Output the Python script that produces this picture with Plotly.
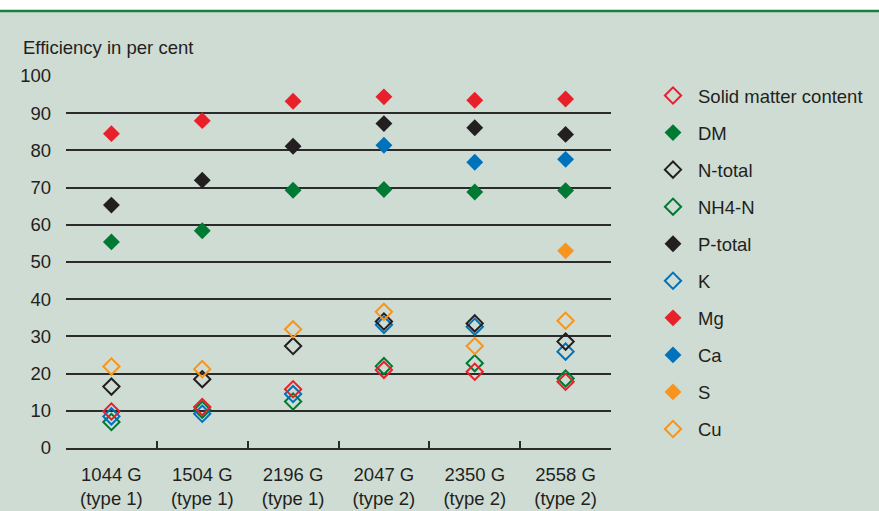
import plotly.graph_objects as go

categories = ["1044 G<br>(type 1)", "1504 G<br>(type 1)", "2196 G<br>(type 1)",
              "2047 G<br>(type 2)", "2350 G<br>(type 2)", "2558 G<br>(type 2)"]

solid_matter = [9.8, 11.0, 15.8, 21.0, 20.5, 17.8]
dm = [55.4, 58.4, 69.3, 69.5, 68.8, 69.2]
n_total = [16.5, 18.5, 27.4, 34.0, 33.5, 28.6]
nh4_n = [7.0, 10.3, 12.5, 22.0, 22.8, 18.7]
p_total = [65.3, 72.0, 81.1, 87.2, 86.1, 84.3]
k = [8.5, 9.2, 14.5, 33.1, 32.6, 25.9]
mg = [84.5, 88.0, 93.2, 94.4, 93.5, 93.8]
ca = [None, None, None, 81.4, 76.8, 77.6]
s = [None, None, None, None, None, 53.0]
cu = [21.9, 21.2, 31.9, 36.6, 27.4, 34.2]

RED = "#e8202a"
GREEN = "#007a33"
BLACK = "#231f20"
BLUE = "#0072bc"
ORANGE = "#f7941d"

# (name, values, color, open?, legend rank) in drawing order
series = [
    ("NH4-N", nh4_n, GREEN, True, 4),
    ("K", k, BLUE, True, 6),
    ("Solid matter content", solid_matter, RED, True, 1),
    ("N-total", n_total, BLACK, True, 3),
    ("Cu", cu, ORANGE, True, 10),
    ("DM", dm, GREEN, False, 2),
    ("P-total", p_total, BLACK, False, 5),
    ("Mg", mg, RED, False, 7),
    ("Ca", ca, BLUE, False, 8),
    ("S", s, ORANGE, False, 9),
]

fig = go.Figure()
for name, vals, color, is_open, rank in series:
    if is_open:
        marker = dict(symbol="diamond-open", size=12.5, color=color,
                      line=dict(color=color, width=2))
    else:
        marker = dict(symbol="diamond", size=13, color=color, line=dict(width=0))
    fig.add_trace(go.Scatter(
        x=categories, y=vals, mode="markers", name=name, marker=marker,
        legendrank=rank, legendgroup=name, cliponaxis=False,
    ))

BG = "#cfdcd3"
LINE = "#2b2b2b"
FONT = "Liberation Sans, Arial, sans-serif"

fig.update_layout(
    width=879, height=511,
    margin=dict(l=66, r=268, t=76, b=63),
    paper_bgcolor=BG, plot_bgcolor=BG,
    font=dict(family=FONT, size=18.5, color=BLACK),
    showlegend=True,
    legend=dict(
        xref="container", yref="container",
        x=648 / 879, y=1 - 77 / 511, xanchor="left", yanchor="top",
        bgcolor="rgba(0,0,0,0)", font=dict(size=18.5, color=BLACK),
        tracegroupgap=10, itemsizing="trace", itemwidth=40,
        maxheight=500,
    ),
    xaxis=dict(
        type="category", range=[-0.5, 5.5], showgrid=False, showline=True,
        linecolor=LINE, linewidth=1.5, ticks="inside", ticklen=7, tickwidth=1.5,
        tickcolor=LINE, tickson="boundaries", zeroline=False, automargin=False,
        tickfont=dict(size=18.5, color=BLACK), ticklabelstandoff=9,
    ),
    yaxis=dict(
        range=[0, 100], tickvals=[0, 10, 20, 30, 40, 50, 60, 70, 80, 90, 100],
        showgrid=True, gridcolor=LINE, gridwidth=1.5, zeroline=False,
        showline=False, ticks="", ticklabelstandoff=14, automargin=False,
        tickfont=dict(size=18.5, color=BLACK),
    ),
    annotations=[dict(
        text="Efficiency in per cent", xref="paper", yref="paper",
        x=(21 - 66) / 545, y=1 + (76 - 47) / 372, xanchor="left",
        yanchor="middle", showarrow=False,
        font=dict(size=18.5, color=BLACK, family=FONT),
    )],
    shapes=[
        dict(type="rect", xref="paper", yref="paper",
             x0=-66 / 545 - 0.01, x1=1 + 268 / 545 + 0.01,
             y0=1 + (76 - 10) / 372, y1=1 + 77 / 372 + 0.01,
             fillcolor="white", line=dict(width=0), layer="above"),
        dict(type="line", xref="paper", yref="paper",
             x0=-66 / 545, x1=1 + 268 / 545,
             y0=1 + (76 - 11) / 372, y1=1 + (76 - 11) / 372,
             line=dict(color="#1a7f3c", width=2.5), layer="above"),
    ],
)

fig.write_html("out.html", config={"displayModeBar": False},
               post_script="document.body.style.margin='0px';document.body.style.overflow='hidden';")
